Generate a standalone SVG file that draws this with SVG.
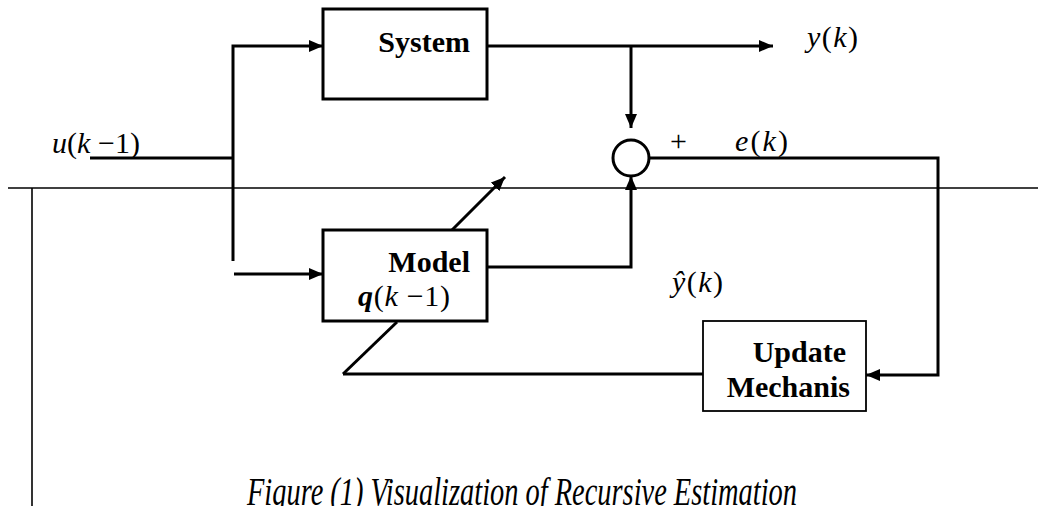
<svg xmlns="http://www.w3.org/2000/svg" width="1038" height="506" viewBox="0 0 1038 506">
<style>
.box{fill:#fff;stroke:#000;stroke-width:3}
.box2{fill:#fff;stroke:#000;stroke-width:1.8}
.ln{fill:none;stroke:#000;stroke-width:3}
.thin{fill:none;stroke:#000;stroke-width:1.6}
.arr{fill:none;stroke:#000;stroke-width:3;marker-end:url(#ah)}
.lbl{font-family:"Liberation Serif","Times New Roman",serif;font-size:30px;font-weight:bold;fill:#000}
.m{font-family:"Liberation Serif","Times New Roman",serif;font-size:30px;fill:#000}
.cap{font-family:"Liberation Serif","Times New Roman",serif;font-size:40px;font-style:italic;fill:#000}
.i{font-style:italic}
</style>
<defs>
<marker id="ah" viewBox="0 0 14 12" refX="14" refY="6" markerWidth="14" markerHeight="12" markerUnits="userSpaceOnUse" orient="auto">
<path d="M0,0 L14,6 L0,12 z" fill="#000"/>
</marker>
</defs>
<g id="frame">
<line class="thin" x1="8" y1="188" x2="1038" y2="188"/>
<line class="thin" x1="32" y1="188" x2="32" y2="506"/>
</g>
<g id="connectors">
<polyline class="ln" points="90,158 233,158"/>
<polyline class="arr" points="233,261 233,46 323,46"/>
<line class="arr" x1="234" y1="274" x2="323" y2="274"/>
<line class="arr" x1="487" y1="46" x2="773" y2="46"/>
<line class="arr" x1="631" y1="46" x2="631" y2="128"/>
<polyline class="arr" points="487,267 631,267 631,176"/>
<polyline class="arr" points="649,158 938,158 938,375 866,375"/>
<line class="ln" x1="343" y1="374" x2="703" y2="374"/>
<line class="ln" x1="343" y1="374" x2="397" y2="322"/>
<line class="arr" x1="452" y1="230" x2="505" y2="177"/>
</g>
<g id="system">
<rect class="box" x="323" y="9" width="164" height="90"/>
<text class="lbl" x="470" y="52" text-anchor="end">System</text>
</g>
<g id="model">
<rect class="box" x="323" y="230" width="164" height="91"/>
<text class="lbl" x="470" y="272" text-anchor="end">Model</text>
<text class="m" x="358" y="306" textLength="92"><tspan class="i" font-weight="bold">q</tspan><tspan>(</tspan><tspan class="i">k</tspan><tspan> −1)</tspan></text>
</g>
<g id="sum">
<circle cx="631" cy="158" r="18" fill="#fff" stroke="#000" stroke-width="3"/>
</g>
<g id="update">
<rect class="box2" x="703" y="321" width="163" height="90"/>
<text class="lbl" x="846" y="362" text-anchor="end">Update</text>
<text class="lbl" x="850" y="397" text-anchor="end">Mechanis</text>
</g>
<g id="labels">
<text class="m" x="52" y="153" textLength="88"><tspan class="i">u</tspan><tspan>(</tspan><tspan class="i">k</tspan><tspan> −1)</tspan></text>
<text class="m" x="807" y="47" textLength="51"><tspan class="i">y</tspan><tspan>(</tspan><tspan class="i">k</tspan><tspan>)</tspan></text>
<text class="m" x="670" y="151">+</text>
<text class="m" x="735" y="151" textLength="53"><tspan class="i">e</tspan><tspan>(</tspan><tspan class="i">k</tspan><tspan>)</tspan></text>
<text class="m" x="672" y="292" textLength="51"><tspan class="i">ŷ</tspan><tspan>(</tspan><tspan class="i">k</tspan><tspan>)</tspan></text>
<text class="cap" x="247" y="505" textLength="550" lengthAdjust="spacingAndGlyphs">Figure (1) Visualization of Recursive Estimation</text>
</g>
</svg>
